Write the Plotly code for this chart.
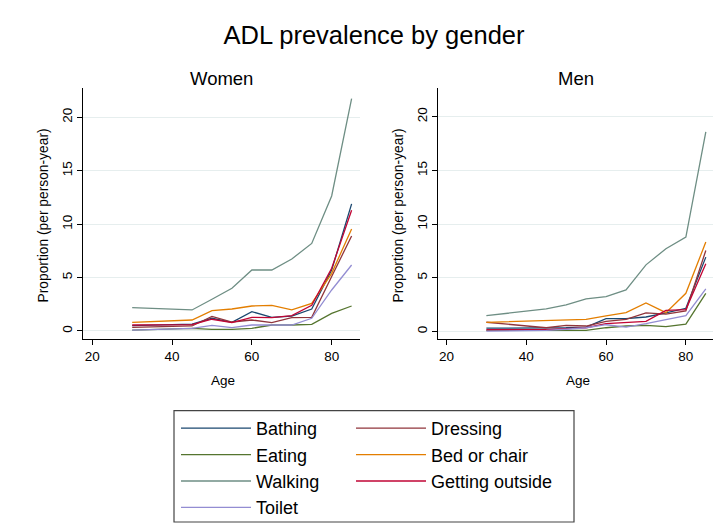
import plotly.graph_objects as go

# ---------------- data ----------------
ages = [30, 45, 50, 55, 60, 65, 70, 75, 80, 85]
activities = ["Bathing", "Dressing", "Eating", "Bed or chair", "Walking", "Getting outside", "Toilet"]

women_bathing = [0.50, 0.65, 1.19, 0.81, 1.81, 1.28, 1.40, 2.06, 5.70, 11.90]
women_dressing = [0.34, 0.47, 1.37, 0.84, 1.03, 0.78, 1.25, 1.28, 5.10, 8.90]
women_eating = [0.09, 0.25, 0.16, 0.16, 0.25, 0.56, 0.56, 0.62, 1.65, 2.34]
women_bed = [0.81, 1.03, 1.90, 2.06, 2.34, 2.40, 1.97, 2.59, 5.40, 9.55]
women_walking = [2.18, 1.97, 2.97, 4.00, 5.71, 5.71, 6.74, 8.20, 12.64, 21.75]
women_outside = [0.56, 0.60, 1.10, 0.78, 1.28, 1.25, 1.44, 2.40, 5.87, 11.30]
women_toilet = [0.09, 0.25, 0.53, 0.31, 0.56, 0.56, 0.56, 1.19, 3.84, 6.18]

men_bathing = [0.30, 0.30, 0.34, 0.40, 1.18, 1.18, 1.34, 1.72, 2.15, 6.92]
men_dressing = [0.85, 0.34, 0.56, 0.50, 0.93, 1.12, 1.72, 1.60, 1.90, 7.54]
men_eating = [0.09, 0.09, 0.15, 0.09, 0.34, 0.50, 0.56, 0.44, 0.68, 3.55]
men_bed = [0.84, 1.00, 1.06, 1.12, 1.44, 1.75, 2.65, 1.75, 3.55, 8.32]
men_walking = [1.47, 2.09, 2.46, 3.03, 3.24, 3.87, 6.20, 7.70, 8.79, 18.60]
men_outside = [0.15, 0.15, 0.25, 0.34, 0.72, 0.81, 0.93, 1.96, 2.03, 6.30]
men_toilet = [0.03, 0.09, 0.20, 0.34, 0.62, 0.40, 0.72, 1.09, 1.46, 3.96]

x_ticks = [20, 40, 60, 80]
y_ticks = [0, 5, 10, 15, 20]

women = [women_bathing, women_dressing, women_eating, women_bed,
         women_walking, women_outside, women_toilet]
men = [men_bathing, men_dressing, men_eating, men_bed,
       men_walking, men_outside, men_toilet]

colors = ["#1a476f", "#90353b", "#55752f", "#e37e00", "#6e8e84", "#c10534", "#938dd2"]
legend_ids = ["legend", "legend2", "legend", "legend2", "legend", "legend2", "legend"]

W, H = 713, 523
FONT = "Liberation Sans, Arial, sans-serif"


def px_x(p):
    return p / W


def px_y(p):
    return (H - p) / H


fig = go.Figure()
for i, name in enumerate(activities):
    fig.add_trace(go.Scatter(
        x=ages, y=women[i], mode="lines", name=name,
        line=dict(color=colors[i], width=1.3),
        xaxis="x", yaxis="y", legend=legend_ids[i], legendgroup=name,
    ))
for i, name in enumerate(activities):
    fig.add_trace(go.Scatter(
        x=ages, y=men[i], mode="lines", name=name,
        line=dict(color=colors[i], width=1.3),
        xaxis="x2", yaxis="y2", showlegend=False, legendgroup=name,
    ))

ydom = [px_y(339), px_y(88)]
common_x = dict(
    tickvals=x_ticks, showline=True, linecolor="black", linewidth=1,
    ticks="outside", ticklen=5, tickcolor="black", showgrid=False, zeroline=False,
    tickfont=dict(size=13.5, color="black", family=FONT),
)
common_y = dict(
    tickvals=y_ticks, showline=True, linecolor="black", linewidth=1,
    ticks="outside", ticklen=5, tickcolor="black", showgrid=True,
    gridcolor="#e6eeee", gridwidth=1, zeroline=False, tickangle=-90,
    tickfont=dict(size=13.5, color="black", family=FONT),
)

fig.update_layout(
    width=W, height=H,
    margin=dict(l=0, r=0, t=0, b=0, autoexpand=False),
    paper_bgcolor="white", plot_bgcolor="white",
    font=dict(family=FONT, color="black"),
    xaxis=dict(domain=[px_x(83), px_x(360)], range=[17.67, 87.1], anchor="y", **common_x),
    xaxis2=dict(domain=[px_x(438), 1.0], range=[17.88, 86.8], anchor="y2", **common_x),
    yaxis=dict(domain=ydom, range=[-0.75, 22.75], anchor="x", **common_y),
    yaxis2=dict(domain=ydom, range=[-0.71, 22.68], anchor="x2", **common_y),
    title=dict(text="ADL prevalence by gender", x=px_x(374), y=px_y(35),
               xanchor="center", yanchor="middle",
               font=dict(size=25.5, color="black", family=FONT)),
    legend=dict(x=px_x(176), y=px_y(410), xanchor="left", yanchor="top",
                orientation="v", itemwidth=70, bgcolor="rgba(0,0,0,0)",
                font=dict(size=18, color="black", family=FONT), tracegroupgap=0),
    legend2=dict(x=px_x(351), y=px_y(410), xanchor="left", yanchor="top",
                 orientation="v", itemwidth=70, bgcolor="rgba(0,0,0,0)",
                 font=dict(size=18, color="black", family=FONT), tracegroupgap=0),
    shapes=[dict(type="rect", xref="paper", yref="paper",
                 x0=px_x(174), x1=px_x(574), y0=px_y(522), y1=px_y(410.7),
                 line=dict(color="#444444", width=1.2), fillcolor="rgba(0,0,0,0)")],
)

annos = [
    dict(text="Women", x=px_x(221.5), y=px_y(78)),
    dict(text="Men", x=px_x(575.5), y=px_y(78)),
]
for a in annos:
    fig.add_annotation(xref="paper", yref="paper", x=a["x"], y=a["y"], text=a["text"],
                       showarrow=False, xanchor="center", yanchor="middle",
                       font=dict(size=18.5, color="black", family=FONT))
for xc in [223, 578]:
    fig.add_annotation(xref="paper", yref="paper", x=px_x(xc), y=px_y(380), text="Age",
                       showarrow=False, xanchor="center", yanchor="middle",
                       font=dict(size=13.5, color="black", family=FONT))
for xc in [43, 398]:
    fig.add_annotation(xref="paper", yref="paper", x=px_x(xc), y=px_y(215.5),
                       text="Proportion (per person-year)", textangle=-90,
                       showarrow=False, xanchor="center", yanchor="middle",
                       font=dict(size=13.8, color="black", family=FONT))

fig.write_html("out.html")
